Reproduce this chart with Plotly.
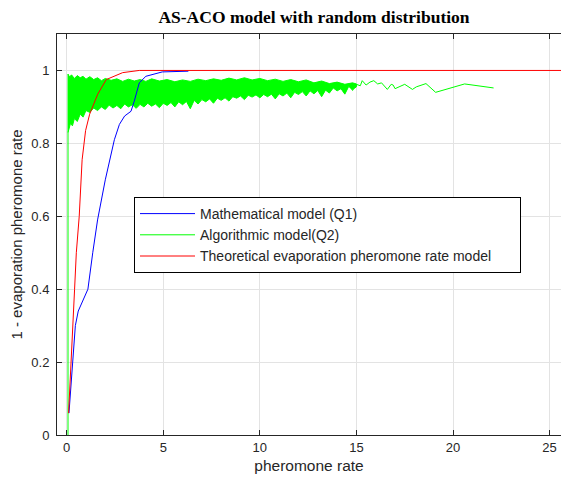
import plotly.graph_objects as go

# ---- data ----
math_x = [0.12, 0.2, 0.29, 0.45, 0.6, 0.76, 1.1, 1.35, 1.6, 2.0, 2.3, 2.47, 2.73, 3.0, 3.33, 3.5, 3.76, 4.1, 4.95, 6.3]
math_y = [0.06, 0.12, 0.2, 0.3, 0.34, 0.36, 0.4, 0.5, 0.59, 0.7, 0.765, 0.81, 0.852, 0.875, 0.888, 0.916, 0.966, 0.984, 0.996, 0.998]

theo_x = [0.1, 0.24, 0.33, 0.41, 0.5, 0.65, 0.8, 0.98, 1.19, 1.36, 1.61, 2.05, 2.5, 2.9, 3.76, 5.0, 26.0]
theo_y = [0.06, 0.2, 0.316, 0.4, 0.5, 0.6, 0.755, 0.835, 0.88, 0.902, 0.935, 0.975, 0.986, 0.994, 1.0, 1.0, 1.0]

# algorithmic model: dense noisy band (upper / lower envelope) + sparse tail
band_up_x = [0.07, 0.15, 0.25, 0.4, 0.55, 0.7, 0.85, 1.0, 1.2, 1.4, 1.6, 1.8, 2.0, 2.3, 2.6, 2.9, 3.2, 3.5,
             3.8, 4.1, 4.4, 4.8, 5.2, 5.6, 6.0, 6.4, 6.8, 7.2, 7.6, 8.0, 8.4, 8.8, 9.2, 9.6, 10.0, 10.4,
             10.8, 11.2, 11.6, 12.0, 12.4, 12.8, 13.2, 13.6, 14.0, 14.4, 14.8, 15.0]
band_up_y = [0.99, 0.982, 0.988, 0.978, 0.986, 0.98, 0.984, 0.976, 0.983, 0.975, 0.98, 0.972, 0.978, 0.973,
             0.977, 0.97, 0.976, 0.971, 0.975, 0.97, 0.977, 0.971, 0.975, 0.969, 0.974, 0.97, 0.976, 0.972,
             0.977, 0.973, 0.979, 0.974, 0.98, 0.974, 0.978, 0.972, 0.976, 0.97, 0.975, 0.969, 0.974, 0.966,
             0.971, 0.964, 0.968, 0.962, 0.966, 0.963]
band_lo_x = [15.0, 14.8, 14.6, 14.4, 14.2, 14.0, 13.8, 13.6, 13.4, 13.2, 13.0, 12.8, 12.6, 12.4, 12.2, 12.0,
             11.8, 11.6, 11.4, 11.2, 11.0, 10.8, 10.6, 10.4, 10.2, 10.0, 9.8, 9.6, 9.4, 9.2, 9.0, 8.8, 8.6,
             8.4, 8.2, 8.0, 7.8, 7.6, 7.4, 7.2, 7.0, 6.8, 6.6, 6.4, 6.2, 6.0, 5.8, 5.6, 5.4, 5.2, 5.0, 4.8,
             4.6, 4.4, 4.2, 4.0, 3.8, 3.6, 3.4, 3.2, 3.0, 2.8, 2.6, 2.4, 2.2, 2.0, 1.8, 1.6, 1.4, 1.2, 1.0,
             0.85, 0.7, 0.55, 0.4, 0.3, 0.2, 0.12, 0.07]
band_lo_y = [0.955, 0.948, 0.956, 0.935, 0.95, 0.944, 0.952, 0.938, 0.946, 0.928, 0.945, 0.936, 0.944, 0.93,
             0.942, 0.934, 0.94, 0.925, 0.938, 0.93, 0.936, 0.922, 0.935, 0.928, 0.934, 0.925, 0.933, 0.927,
             0.932, 0.92, 0.93, 0.924, 0.928, 0.916, 0.925, 0.918, 0.924, 0.91, 0.922, 0.914, 0.92, 0.908,
             0.918, 0.895, 0.915, 0.906, 0.914, 0.9, 0.912, 0.904, 0.91, 0.898, 0.908, 0.902, 0.91, 0.9,
             0.907, 0.896, 0.906, 0.9, 0.908, 0.895, 0.904, 0.897, 0.905, 0.893, 0.9, 0.89, 0.897, 0.885,
             0.89, 0.872, 0.88, 0.86, 0.868, 0.848, 0.855, 0.835, 0.83]
algo_x = [0.07, 0.07, None, 14.4, 14.6, 14.8, 15.0, 15.2, 15.3, 15.5, 15.7, 15.9, 16.1, 16.3, 16.6, 16.8,
          16.9, 17.0, 17.3, 17.5, 17.9, 18.1, 18.6, 19.1, 20.6, 22.1]
algo_y = [0.0, 0.99, None, 0.955, 0.96, 0.945, 0.962, 0.958, 0.972, 0.96, 0.968, 0.972, 0.963, 0.966, 0.948,
          0.962, 0.96, 0.95, 0.958, 0.962, 0.948, 0.955, 0.964, 0.94, 0.963, 0.952]

x_ticks = [0, 5, 10, 15, 20, 25]
y_ticks = [0, 0.2, 0.4, 0.6, 0.8, 1]
y_tick_text = ["0", "0.2", "0.4", "0.6", "0.8", "1"]

pad = "\u00a0" * 6  # right padding inside the legend box

fig = go.Figure()
fig.add_trace(go.Scatter(x=band_up_x + band_lo_x, y=band_up_y + band_lo_y, mode="lines",
                         fill="toself", fillcolor="#00ff00", line=dict(color="#00ff00", width=1),
                         showlegend=False, hoverinfo="skip"))
fig.add_trace(go.Scatter(x=math_x, y=math_y, mode="lines", name="Mathematical model (Q1)",
                         line=dict(color="#0000ff", width=1)))
fig.add_trace(go.Scatter(x=algo_x, y=algo_y, mode="lines", name="Algorithmic model(Q2)",
                         line=dict(color="#00ff00", width=1)))
fig.add_trace(go.Scatter(x=theo_x, y=theo_y, mode="lines",
                         name="Theoretical evaporation pheromone rate model" + pad,
                         line=dict(color="#ff0000", width=1)))

axis_common = dict(showgrid=True, gridcolor="#e3e3e3", gridwidth=1, zeroline=False,
                   showline=True, linecolor="#262626", linewidth=1,
                   ticks="inside", ticklen=5, tickcolor="#262626", automargin=False,
                   tickfont=dict(family="Liberation Sans, Arial", size=13, color="#262626"))

# page body has an 8px margin: figure is sized so the plot area lands where the reference has it
fig.update_layout(
    width=553, height=468,
    margin=dict(l=49, r=0, t=26, b=41),
    paper_bgcolor="white", plot_bgcolor="white",
    title=dict(text="<b>AS-ACO model with random distribution</b>", x=(314 - 8) / 553, xanchor="center",
               y=1 - (17 - 8) / 468, yanchor="middle",
               font=dict(family="Liberation Serif, Times New Roman", size=17.5, color="black")),
    xaxis=dict(range=[-0.5, 25.59], tickvals=x_ticks, mirror="ticks",
               title=dict(text="pheromone rate", standoff=6,
                          font=dict(family="Liberation Sans, Arial", size=15.5, color="#262626")),
               **axis_common),
    yaxis=dict(range=[0, 1.1], tickvals=y_ticks, ticktext=y_tick_text, ticklabelstandoff=4, mirror=False,
               title=dict(text="1 - evaporation pheromone rate", standoff=13,
                          font=dict(family="Liberation Sans, Arial", size=15, color="#262626")),
               **axis_common),
    legend=dict(x=0.1528, y=0.5935, xanchor="left", yanchor="top",
                bgcolor="white", bordercolor="black", borderwidth=1, itemwidth=55,
                font=dict(family="Liberation Sans, Arial", size=14, color="#262626"),
                tracegroupgap=0),
)

fig.write_html("out.html")
